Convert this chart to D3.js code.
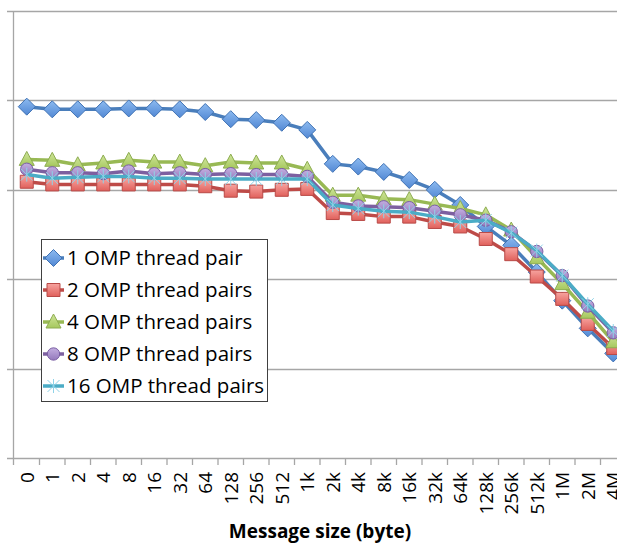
<!DOCTYPE html>
<html>
<head>
<meta charset="utf-8">
<script src="https://cdn.jsdelivr.net/npm/d3@7"></script>
<style>
  body { margin: 0; background: #fff; }
  text { font-family: "Open Sans", sans-serif; fill: #000; }
</style>
</head>
<body>
<div id="chart"></div>
<script>
// categories (message size)
var sizes = ["0", "1", "2", "4", "8", "16", "32", "64", "128", "256", "512", "1k",
  "2k", "4k", "8k", "16k", "32k", "64k", "128k", "256k", "512k", "1M", "2M", "4M"];

// values (no y labels in the original, units = gridlines)
var pair1 = [3.93, 3.90, 3.90, 3.90, 3.91, 3.91, 3.90, 3.87, 3.79, 3.78, 3.75, 3.67,
  3.29, 3.26, 3.20, 3.11, 3.00, 2.83, 2.59, 2.38, 2.08, 1.76, 1.45, 1.17];
var pairs2 = [3.09, 3.06, 3.06, 3.06, 3.06, 3.06, 3.06, 3.04, 2.99, 2.98, 3.00, 3.01,
  2.74, 2.73, 2.70, 2.70, 2.64, 2.59, 2.45, 2.28, 2.03, 1.78, 1.50, 1.23];
var pairs4 = [3.34, 3.33, 3.28, 3.30, 3.33, 3.31, 3.31, 3.27, 3.31, 3.30, 3.30, 3.23,
  2.94, 2.94, 2.90, 2.89, 2.84, 2.79, 2.72, 2.55, 2.24, 1.95, 1.63, 1.30];
var pairs8 = [3.23, 3.19, 3.19, 3.18, 3.21, 3.18, 3.19, 3.17, 3.18, 3.17, 3.17, 3.15,
  2.86, 2.82, 2.81, 2.80, 2.76, 2.72, 2.66, 2.53, 2.31, 2.04, 1.70, 1.40];
var pairs16 = [3.17, 3.13, 3.14, 3.15, 3.15, 3.13, 3.13, 3.12, 3.12, 3.12, 3.12, 3.12,
  2.83, 2.79, 2.76, 2.75, 2.70, 2.64, 2.66, 2.52, 2.32, 2.04, 1.72, 1.42];

var seriesNames = ["1 OMP thread pair", "2 OMP thread pairs", "4 OMP thread pairs",
  "8 OMP thread pairs", "16 OMP thread pairs"];
var yTicks = [0, 1, 2, 3, 4, 5];

var series = [
  { name: seriesNames[0], values: pair1, line: "#4a7ebb", fill: ["#8cbaf0", "#5288d4"], edge: "#3f72b4", shape: "diamond" },
  { name: seriesNames[1], values: pairs2, line: "#be4b48", fill: ["#f7a4a0", "#e0605b"], edge: "#b94a47", shape: "square" },
  { name: seriesNames[2], values: pairs4, line: "#98b954", fill: ["#cfe59a", "#a6c85e"], edge: "#8dac50", shape: "triangle" },
  { name: seriesNames[3], values: pairs8, line: "#7d60a0", fill: ["#c3aee0", "#9479bc"], edge: "#7a5ea3", shape: "circle" },
  { name: seriesNames[4], values: pairs16, line: "#4bacc6", fill: ["#4bacc6", "#4bacc6"], edge: "#4bacc6", shape: "star" }
];

var width = 617, height = 543;
var plotLeft = 14, plotTop = 11, plotBottom = 458;

var svg = d3.select("#chart").append("svg")
  .attr("width", width)
  .attr("height", height);

var defs = svg.append("defs");
series.forEach(function (s, i) {
  var g = defs.append("linearGradient")
    .attr("id", "grad" + i)
    .attr("x1", 0).attr("y1", 0).attr("x2", 0).attr("y2", 1);
  g.append("stop").attr("offset", "0%").attr("stop-color", s.fill[0]);
  g.append("stop").attr("offset", "100%").attr("stop-color", s.fill[1]);
});

var x = d3.scaleBand().domain(sizes).range([plotLeft, plotLeft + sizes.length * 25.5]);
var y = d3.scaleLinear().domain([0, 5]).range([plotBottom, plotTop]);

// gridlines
svg.append("g")
  .selectAll("line")
  .data(yTicks)
  .enter()
  .append("line")
  .attr("x1", 7)
  .attr("x2", width)
  .attr("y1", function (d) { return Math.round(y(d)) + 0.5; })
  .attr("y2", function (d) { return Math.round(y(d)) + 0.5; })
  .attr("stroke", "#a6a6a6")
  .attr("stroke-width", 1.3);

// left axis line
svg.append("line")
  .attr("x1", plotLeft - 0.5).attr("x2", plotLeft - 0.5)
  .attr("y1", plotTop).attr("y2", plotBottom + 7)
  .attr("stroke", "#a6a6a6").attr("stroke-width", 1.3);

// x axis
var xAxis = d3.axisBottom(x).tickSize(0).tickPadding(0);
var gx = svg.append("g")
  .attr("transform", "translate(0," + plotBottom + ")")
  .call(xAxis);
gx.select(".domain").remove();

// tick marks between categories
gx.selectAll("line.sep")
  .data(sizes)
  .enter()
  .append("line")
  .attr("class", "sep")
  .attr("x1", function (d) { return x(d) + x.bandwidth(); })
  .attr("x2", function (d) { return x(d) + x.bandwidth(); })
  .attr("y1", 0).attr("y2", 7)
  .attr("stroke", "#a6a6a6").attr("stroke-width", 1.3);

gx.selectAll(".tick text")
  .attr("font-size", 19)
  .attr("font-family", "Open Sans, sans-serif")
  .attr("fill", "#000")
  .attr("text-anchor", "end")
  .attr("transform", "translate(0,14) rotate(-90)")
  .attr("x", 0)
  .attr("y", 0)
  .attr("dy", "0.36em");

svg.append("text")
  .attr("x", 320)
  .attr("y", 538)
  .attr("text-anchor", "middle")
  .attr("font-size", 19)
  .attr("font-weight", "bold")
  .text("Message size (byte)");

function markerPath(shape) {
  if (shape === "diamond") return "M0,-8.5L8.5,0L0,8.5L-8.5,0Z";
  if (shape === "square") return "M-6.5,-6.5H6.5V6.5H-6.5Z";
  if (shape === "triangle") return "M0,-8L7.5,6H-7.5Z";
  if (shape === "circle") return d3.symbol().type(d3.symbolCircle).size(120)();
  return "M0,-7V7M-6,-6L6,6M-6,6L6,-6";
}

var line = d3.line()
  .x(function (d, i) { return x(sizes[i]) + x.bandwidth() / 2; })
  .y(function (d) { return y(d); });

series.forEach(function (s, i) {
  var g = svg.append("g");
  g.append("path")
    .attr("d", line(s.values))
    .attr("fill", "none")
    .attr("stroke", s.line)
    .attr("stroke-width", 3.5)
    .attr("stroke-linejoin", "round");

  g.selectAll("path.mark")
    .data(s.values)
    .enter()
    .append("path")
    .attr("class", "mark")
    .attr("d", markerPath(s.shape))
    .attr("transform", function (d, j) {
      return "translate(" + (x(sizes[j]) + x.bandwidth() / 2) + "," + y(d) + ")";
    })
    .attr("fill", s.shape === "star" ? "none" : "url(#grad" + i + ")")
    .attr("stroke", s.shape === "star" ? "#8fd3e8" : s.edge)
    .attr("stroke-width", 1);
});

// legend
var legend = svg.append("g").attr("transform", "translate(41,239)");
legend.append("rect")
  .attr("x", 0.5).attr("y", 0.5)
  .attr("width", 226).attr("height", 162)
  .attr("fill", "#fff")
  .attr("stroke", "#404040")
  .attr("stroke-width", 1);

series.forEach(function (s, i) {
  var row = legend.append("g").attr("transform", "translate(0," + (19 + i * 32) + ")");
  row.append("line")
    .attr("x1", 2).attr("x2", 23)
    .attr("stroke", s.line).attr("stroke-width", 3.5);
  row.append("path")
    .attr("d", markerPath(s.shape))
    .attr("transform", "translate(12.5,0)")
    .attr("fill", s.shape === "star" ? "none" : "url(#grad" + i + ")")
    .attr("stroke", s.shape === "star" ? "#8fd3e8" : s.edge)
    .attr("stroke-width", 1);
  row.append("text")
    .attr("x", 26)
    .attr("y", 0)
    .attr("dy", "0.36em")
    .attr("font-size", 20.5)
    .text(s.name);
});
</script>
</body>
</html>
